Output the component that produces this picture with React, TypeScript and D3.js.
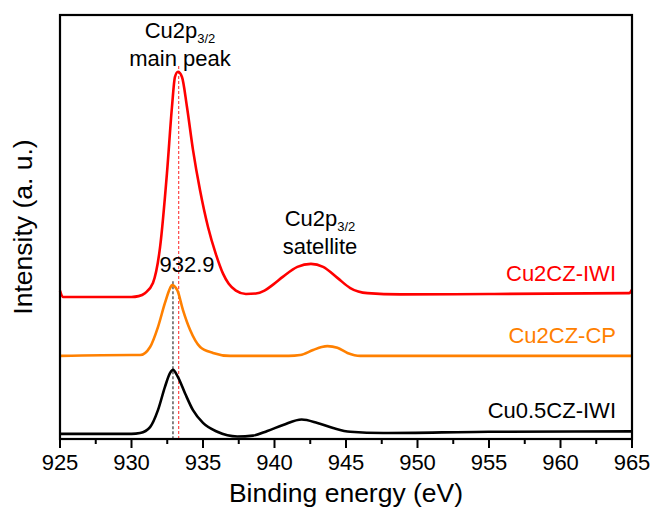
import React from 'react'
import * as d3 from 'd3'

// binding energy (eV) / intensity (a.u., stacked offsets included)
const cu2czIwi: [number, number][] = [
	[925, 35.0], [925.2, 33.5], [928, 33.5], [930, 33.5], [930.5, 33.7], [930.94, 34.4],
	[931.5, 36.8], [932.0, 45.3], [932.48, 62.7], [932.83, 78.3], [933.04, 85.4],
	[933.25, 86.6], [933.53, 85.4], [933.88, 78.3], [934.3, 68.2], [934.79, 58.7],
	[935.35, 50.0], [935.9, 43.6], [936.4, 39.0], [936.8, 36.6], [937.3, 35.0],
	[938.0, 34.2], [938.7, 34.3], [939.3, 35.0], [939.9, 36.4], [940.6, 38.3],
	[941.6, 40.6], [942.55, 41.3], [943.4, 40.6], [944.4, 38.0], [945.3, 35.6],
	[946.5, 34.4], [948.8, 34.1], [955, 34.2], [964.8, 34.4], [965, 35.2],
]

const cu2czCp: [number, number][] = [
	[925, 19.6], [930, 19.8], [930.6, 19.8], [931.3, 21.7], [931.85, 26.4],
	[932.34, 32.1], [932.7, 35.6], [932.83, 36.3], [933.2, 35.1], [933.6, 30.4],
	[934.1, 25.7], [934.8, 21.7], [935.7, 20.3], [936.9, 19.6], [941.0, 19.6],
	[941.8, 19.8], [942.7, 21.0], [943.3, 21.7], [943.7, 21.9], [944.4, 21.5],
	[945.1, 20.3], [946.0, 19.6], [965, 19.6],
]

const cu05czIwi: [number, number][] = [
	[925, 1.2], [930, 1.2], [930.6, 1.4], [931.3, 2.8], [931.85, 6.8], [932.34, 12.3],
	[932.7, 15.6], [932.9, 16.3], [933.25, 14.6], [933.74, 10.8], [934.3, 6.8],
	[935.0, 3.8], [936.0, 1.7], [937.4, 0.6], [938.5, 0.8], [939.5, 1.9],
	[940.6, 3.3], [941.9, 4.6], [943.0, 3.8], [944.1, 2.6], [945.3, 1.7],
	[947.6, 1.4], [955, 1.7], [965, 1.8],
]

const seriesNames = ['Cu2CZ-IWI', 'Cu2CZ-CP', 'Cu0.5CZ-IWI']
const seriesColors = ['#ff0000', '#ff8000', '#000000']
const labelValues = [37.2, 22.6, 4.9]

const xTicks = [925, 930, 935, 940, 945, 950, 955, 960, 965]
const minorTicks = [927.5, 932.5, 937.5, 942.5, 947.5, 952.5, 957.5, 962.5]

const peakRef = 932.9
const peakRed = 933.3

const font = '"Liberation Sans", Arial, sans-serif'

export default function App() {
	const left = 60
	const right = 632
	const top = 15
	const bottom = 439

	const x = d3.scaleLinear().domain([925, 965]).range([left, right])
	const y = d3.scaleLinear().domain([0, 100]).range([bottom, top])

	const line = d3
		.line<[number, number]>()
		.x((d) => x(d[0]))
		.y((d) => y(d[1]))
		.curve(d3.curveMonotoneX)

	const series = [cu2czIwi, cu2czCp, cu05czIwi]

	return (
		<svg width={654} height={508} style={{ position: 'absolute', left: 0, top: 0 }} fontFamily={font}>
			<rect x={0} y={0} width={654} height={508} fill="#fff" />

			{/* dashed reference lines */}
			<line x1={x(peakRef)} x2={x(peakRef)} y1={y(37.2)} y2={bottom} stroke="#333" strokeWidth={1.2} strokeDasharray="3,2" />
			<line x1={x(peakRed)} x2={x(peakRed)} y1={y(88)} y2={bottom} stroke="#ff3838" strokeWidth={1.1} strokeDasharray="3,2" />

			{series.map((s, i) => (
				<path key={i} d={line(s) || ''} fill="none" stroke={seriesColors[i]} strokeWidth={2.6} strokeLinejoin="round" />
			))}

			{/* frame */}
			<rect x={left} y={top} width={right - left} height={bottom - top} fill="none" stroke="#000" strokeWidth={2.2} />

			{xTicks.map((t) => (
				<g key={t}>
					<line x1={x(t)} x2={x(t)} y1={bottom} y2={bottom + 9} stroke="#000" strokeWidth={2} />
					<text x={x(t)} y={bottom + 31} textAnchor="middle" fontSize={22}>{t}</text>
				</g>
			))}
			{minorTicks.map((t) => (
				<line key={t} x1={x(t)} x2={x(t)} y1={bottom} y2={bottom + 5} stroke="#000" strokeWidth={2} />
			))}

			<text x={(left + right) / 2} y={502} textAnchor="middle" fontSize={26.5}>Binding energy (eV)</text>
			<text transform={`translate(32, ${(top + bottom) / 2}) rotate(-90)`} textAnchor="middle" fontSize={26.5}>Intensity (a. u.)</text>

			{seriesNames.map((n, i) => (
				<text key={n} x={616} y={y(labelValues[i])} textAnchor="end" fontSize={22} fill={seriesColors[i]}>{n}</text>
			))}

			<text x={180} y={38} textAnchor="middle" fontSize={22}>
				Cu2p<tspan fontSize={13} dy={5}>3/2</tspan>
			</text>
			<text x={180} y={66} textAnchor="middle" fontSize={22}>main peak</text>

			<text x={320} y={226} textAnchor="middle" fontSize={22}>
				Cu2p<tspan fontSize={13} dy={5}>3/2</tspan>
			</text>
			<text x={320} y={254} textAnchor="middle" fontSize={22}>satellite</text>

			<text x={187} y={272} textAnchor="middle" fontSize={22}>932.9</text>
		</svg>
	)
}
